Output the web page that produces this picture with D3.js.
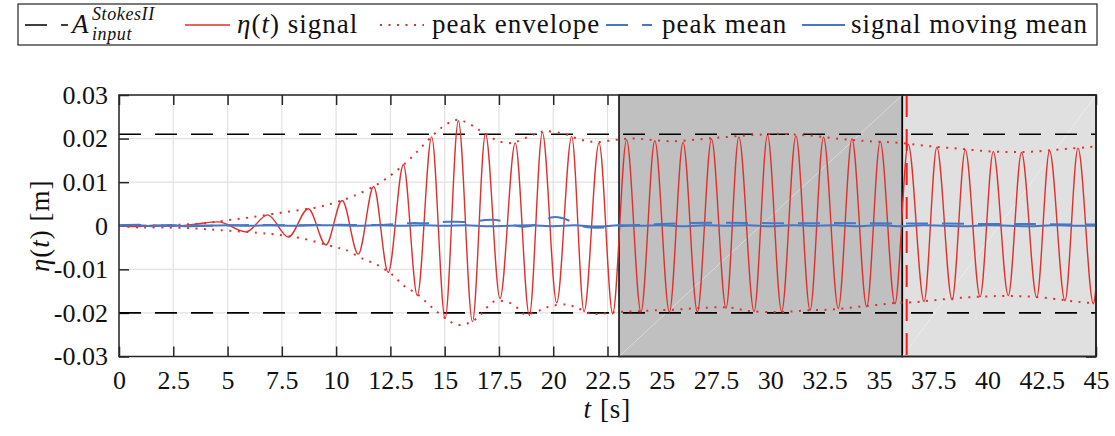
<!DOCTYPE html>
<html><head><meta charset="utf-8">
<script src="https://cdn.jsdelivr.net/npm/d3@7"></script>
<style>
body{margin:0;background:#fff}
svg{display:block}
text{font-family:"Liberation Serif","Times New Roman",serif;fill:#111}
</style>
</head><body>
<svg id="chart" width="1115" height="436"></svg>
<script>
// ---------------- data ----------------
const xTicks = [0,2.5,5,7.5,10,12.5,15,17.5,20,22.5,25,27.5,30,32.5,35,37.5,40,42.5,45];
const xTickLabels = ["0","2.5","5","7.5","10","12.5","15","17.5","20","22.5","25","27.5","30","32.5","35","37.5","40","42.5","45"];
const yTicks = [-0.03,-0.02,-0.01,0,0.01,0.02,0.03];
const yTickLabels = ["-0.03","-0.02","-0.01","0","0.01","0.02","0.03"];

const inputCrest = 0.021;     // A input (crest)
const inputTrough = -0.020;   // A input (trough)
const windowStart = 23.03, windowEnd = 36.08, tailEnd = 45;
const markerTime = 36.28;

// eta(t) signal: extrema
const signalT = [0,0.8,1.6,2.4,3.4,4.57,5.85,6.85,7.80,8.72,9.53,10.28,11.02,11.73,12.40,13.10,13.74,14.40,15.02,15.63,16.28,16.88,17.55,18.25,18.90,19.50,20.16,20.85,21.42,22.11,22.74,23.38,24.04,24.68,25.35,25.98,26.64,27.29,27.96,28.55,29.25,29.87,30.52,31.18,31.83,32.45,33.13,33.76,34.44,35.06,35.74,36.35,37.08,37.67,38.37,38.98,39.66,40.27,40.96,41.57,42.27,42.86,43.57,44.17,44.88,45.0];
const signalV = [0,-0.0002,0.0001,-0.0001,0.0003,0.0009,-0.0014,0.0025,-0.0026,0.0039,-0.0044,0.0058,-0.0065,0.0090,-0.0107,0.0140,-0.0160,0.0204,-0.0213,0.0241,-0.0220,0.0211,-0.0167,0.0190,-0.0206,0.0214,-0.0177,0.0205,-0.0197,0.0190,-0.0202,0.0197,-0.0198,0.0195,-0.0198,0.0191,-0.0198,0.0199,-0.0189,0.0204,-0.0197,0.0208,-0.0197,0.0206,-0.0194,0.0203,-0.0190,0.0199,-0.0186,0.0193,-0.0179,0.0187,-0.0174,0.0180,-0.0170,0.0174,-0.0163,0.0170,-0.0160,0.0168,-0.0165,0.0172,-0.0172,0.0178,-0.0179,-0.0142];

// peak envelope (upper / lower)
const envUpperT = [0,1,2,3,4,4.6,6.0,7.6,9.2,10.0,10.8,11.9,12.6,13.25,13.83,14.45,15.05,15.6,16.2,16.55,17.24,17.63,18.16,18.47,19.24,19.62,20.47,21.23,22.0,22.85,23.69,24.54,25.38,26.22,27.07,27.84,28.83,29.52,30.37,31.2,32.06,32.9,33.75,34.51,35.36,36.2,37.05,37.89,38.66,39.5,40.35,41.19,42.04,42.88,43.73,44.57,45];
const envUpperV = [0,0,0.0001,0.0003,0.0006,0.0010,0.0019,0.0031,0.0043,0.0054,0.0068,0.0095,0.0119,0.0146,0.0175,0.0207,0.0232,0.0243,0.0232,0.0221,0.0200,0.0192,0.0190,0.0196,0.0212,0.0217,0.0211,0.0198,0.0192,0.0197,0.0200,0.0197,0.0194,0.0196,0.0200,0.0203,0.0207,0.0209,0.0211,0.0209,0.0206,0.0201,0.0197,0.0194,0.0192,0.0189,0.0184,0.0180,0.0177,0.0173,0.0170,0.0169,0.0170,0.0173,0.0177,0.0180,0.0182];
const envLowerT = [0,0.9,2,3.4,4.65,6.34,7.19,8.42,9.95,10.41,11.25,11.94,12.63,13.1,13.71,14.32,14.94,15.55,16.0,16.47,16.93,17.31,18.0,18.39,18.7,19.39,19.85,20.62,21.08,21.77,22.16,22.92,23.46,24.07,24.69,25.53,26.3,27.07,27.84,28.45,28.91,30.06,30.9,31.75,32.59,33.36,34.21,35.05,35.82,36.74,37.51,38.35,39.2,40.04,40.89,41.73,42.58,43.42,44.26,45];
const envLowerV = [0,-0.0004,-0.0004,-0.0006,-0.0010,-0.0016,-0.0020,-0.0029,-0.0049,-0.0055,-0.0076,-0.0091,-0.0114,-0.0137,-0.0156,-0.0183,-0.0209,-0.0227,-0.0225,-0.0213,-0.0188,-0.0173,-0.0177,-0.0190,-0.0203,-0.0194,-0.0185,-0.0181,-0.0188,-0.0202,-0.0202,-0.0198,-0.0197,-0.0196,-0.0194,-0.0193,-0.0190,-0.0188,-0.0187,-0.0190,-0.0195,-0.0198,-0.0197,-0.0194,-0.0193,-0.0190,-0.0185,-0.0181,-0.0177,-0.0175,-0.0171,-0.0167,-0.0164,-0.0162,-0.0161,-0.0162,-0.0165,-0.0170,-0.0175,-0.0178];

// peak mean (dashed blue)
const peakMeanT = [0,1,2,3,4.5,6,8,10,12,13.4,14.4,15.1,16.0,16.7,17.2,17.7,18.5,19.3,19.9,20.4,20.9,21.5,22.5,23.3,24,25,26,28,30,32,34,36,38,40,42,44,45];
const peakMeanV = [0.0001,0.0002,0,0.0001,0,0.0002,0.0001,0.0002,0.0002,0.0006,0.0006,0.0009,0.0009,0.0012,0.0014,0.0010,-0.0002,0.0004,0.0019,0.0018,0.0008,-0.0003,-0.0004,0,0.0002,0.0004,0.0006,0.0007,0.0006,0.0006,0.0006,0.0005,0.0005,0.0004,0.0004,0.0003,0.0003];

// signal moving mean (solid blue)
const movMeanT = [0,0.7,1.5,2.3,3,4,5,6,7,8,9,10,11,12,13,14,15,16,17,18,19,20,21,22,23,24,25,26,27,28,29,30,31,32,33,34,35,36,37,38,39,40,41,42,43,44,45];
const movMeanV = [0,0.0002,-0.0001,0.0002,-0.0001,0,0.0001,0,0.0001,0,0.0001,0.0001,0,0.0001,0,0.0001,0,0.0001,-0.0001,0,0.0001,-0.0001,0.0001,-0.0002,0.0001,0,0.0001,-0.0001,0.0001,0,0.0001,-0.0001,0.0001,0,0.0001,-0.0001,0.0001,-0.0001,0.0001,0,-0.0001,0.0001,0,-0.0001,0.0001,0,0];

// ---------------- drawing ----------------
const RED = "#e0302d", BLUE = "#4677c2";
const svg = d3.select("#chart");
const L = 119, R = 1096, T = 95, B = 356.5;
const x = d3.scaleLinear().domain([0,45]).range([L,R]);
const y = d3.scaleLinear().domain([-0.03,0.03]).range([B,T]);
const FS = 26, LFS = 27, LS = 1;

// grid
const grid = svg.append("g");
grid.selectAll(".gx").data(xTicks).join("line")
  .attr("x1",d=>x(d)).attr("x2",d=>x(d)).attr("y1",T).attr("y2",B)
  .attr("stroke","#e2e2e2").attr("stroke-width",1.2);
grid.selectAll(".gy").data(yTicks).join("line")
  .attr("x1",L).attr("x2",R).attr("y1",d=>y(d)).attr("y2",d=>y(d))
  .attr("stroke","#e2e2e2").attr("stroke-width",1.2);

// axes (inward ticks)
function styleAxis(g){
  g.select(".domain").remove();
  g.selectAll(".tick line").attr("stroke","#262626").attr("stroke-width",1.5);
  g.selectAll(".tick text").attr("font-size",FS).attr("font-family","Liberation Serif").attr("fill","#111");
}
svg.append("g").attr("transform",`translate(0,${B})`)
  .call(d3.axisBottom(x).tickValues(xTicks).tickFormat((d,i)=>xTickLabels[i]).tickSizeInner(-10).tickSizeOuter(0).tickPadding(14))
  .call(styleAxis);
svg.append("g").attr("transform",`translate(0,${T})`)
  .call(d3.axisTop(x).tickValues(xTicks).tickFormat("").tickSizeInner(-10).tickSizeOuter(0))
  .call(styleAxis);
svg.append("g").attr("transform",`translate(${L},0)`)
  .call(d3.axisLeft(y).tickValues(yTicks).tickFormat((d,i)=>yTickLabels[i]).tickSizeInner(-10).tickSizeOuter(0).tickPadding(11))
  .call(styleAxis);
svg.append("g").attr("transform",`translate(${R},0)`)
  .call(d3.axisRight(y).tickValues(yTicks).tickFormat("").tickSizeInner(-10).tickSizeOuter(0))
  .call(styleAxis);

// shaded windows
const windows = [
  {a:windowStart,b:windowEnd,fill:"#c0c0c0"},
  {a:windowEnd,b:tailEnd,fill:"#e0e0e0"}
];
svg.selectAll(".win").data(windows).join("rect")
  .attr("x",d=>x(d.a)).attr("width",d=>x(d.b)-x(d.a))
  .attr("y",y(0.03)).attr("height",y(-0.03)-y(0.03))
  .attr("fill",d=>d.fill).attr("stroke","#000").attr("stroke-width",1.5);
svg.selectAll(".diag").data(windows).join("line")
  .attr("x1",d=>x(d.a)).attr("y1",y(-0.03)).attr("x2",d=>x(d.b)).attr("y2",y(0.03))
  .attr("stroke","#fff").attr("stroke-opacity",0.5).attr("stroke-width",0.8);

// input amplitude lines
svg.selectAll(".amp").data([inputCrest,inputTrough]).join("line")
  .attr("x1",x(0)).attr("x2",x(45)).attr("y1",d=>y(d)).attr("y2",d=>y(d))
  .attr("stroke","#000").attr("stroke-width",1.6).attr("stroke-dasharray","22,14");

const line = d3.line().x(d=>x(d[0])).y(d=>y(d[1])).curve(d3.curveMonotoneX);
const smooth = d3.line().x(d=>x(d[0])).y(d=>y(d[1])).curve(d3.curveCatmullRom.alpha(0.5));

// envelopes
[[envUpperT,envUpperV],[envLowerT,envLowerV]].forEach(([tt,vv])=>{
  svg.append("path").datum(tt.map((t,i)=>[t,vv[i]]))
    .attr("d",smooth).attr("fill","none").attr("stroke",RED)
    .attr("stroke-width",2).attr("stroke-dasharray","2,6.5");
});

// signal
svg.append("path").datum(signalT.map((t,i)=>[t,signalV[i]]))
  .attr("d",line).attr("fill","none").attr("stroke",RED).attr("stroke-width",1.4);

// peak mean / moving mean
svg.append("path").datum(peakMeanT.map((t,i)=>[t,peakMeanV[i]]))
  .attr("d",smooth).attr("fill","none").attr("stroke",BLUE).attr("stroke-width",2).attr("stroke-dasharray","22,14");
svg.append("path").datum(movMeanT.map((t,i)=>[t,movMeanV[i]]))
  .attr("d",smooth).attr("fill","none").attr("stroke",BLUE).attr("stroke-width",2);

// marker line
svg.append("line").attr("x1",x(markerTime)).attr("x2",x(markerTime)).attr("y1",y(0.03)).attr("y2",y(-0.03))
  .attr("stroke","#ff1a1a").attr("stroke-width",2).attr("stroke-dasharray","22,12");

// frame
svg.append("rect").attr("x",L).attr("y",T).attr("width",R-L).attr("height",B-T)
  .attr("fill","none").attr("stroke","#262626").attr("stroke-width",1.5);

// axis labels
const yl = svg.append("text").attr("transform",`translate(49,${(T+B)/2}) rotate(-90)`)
  .attr("text-anchor","middle").attr("font-size",LFS).attr("letter-spacing",LS);
yl.append("tspan").attr("font-style","italic").text("η");
yl.append("tspan").text("(");
yl.append("tspan").attr("font-style","italic").text("t");
yl.append("tspan").text(") [m]");
const xl = svg.append("text").attr("x",(L+R)/2).attr("y",418).attr("text-anchor","middle")
  .attr("font-size",LFS).attr("letter-spacing",LS);
xl.append("tspan").attr("font-style","italic").text("t");
xl.append("tspan").text(" [s]");

// legend
const lg = svg.append("g");
lg.append("rect").attr("x",18).attr("y",4).attr("width",1079).attr("height",41)
  .attr("fill","#fff").attr("stroke","#222").attr("stroke-width",1.2);
const LY = 25, TY = 33;
function ltext(xp, parts){
  const t = lg.append("text").attr("x",xp).attr("y",TY).attr("font-size",LFS).attr("letter-spacing",LS);
  parts.forEach(([s,it])=>t.append("tspan").attr("font-style",it?"italic":"normal").text(s));
  return t;
}
lg.append("line").attr("x1",25).attr("x2",68).attr("y1",LY).attr("y2",LY)
  .attr("stroke","#000").attr("stroke-width",1.6).attr("stroke-dasharray","22,14");
ltext(72,[["A",true]]);
lg.append("text").attr("x",92).attr("y",20).attr("font-size",18).attr("letter-spacing",0.6).attr("font-style","italic").text("StokesII");
lg.append("text").attr("x",92).attr("y",40).attr("font-size",18).attr("letter-spacing",0.6).attr("font-style","italic").text("input");

lg.append("line").attr("x1",185).attr("x2",230).attr("y1",LY).attr("y2",LY).attr("stroke",RED).attr("stroke-width",1.4);
ltext(237,[["η",true],["(",false],["t",true],[") signal",false]]);

lg.append("line").attr("x1",380).attr("x2",424).attr("y1",LY).attr("y2",LY).attr("stroke",RED).attr("stroke-width",2).attr("stroke-dasharray","2,6.5");
ltext(432,[["peak envelope",false]]);

lg.append("line").attr("x1",606).attr("x2",652).attr("y1",LY).attr("y2",LY).attr("stroke",BLUE).attr("stroke-width",2).attr("stroke-dasharray","22,14");
ltext(662,[["peak mean",false]]);

lg.append("line").attr("x1",802).attr("x2",845).attr("y1",LY).attr("y2",LY).attr("stroke",BLUE).attr("stroke-width",2);
ltext(851,[["signal moving mean",false]]);
</script>
</body></html>
